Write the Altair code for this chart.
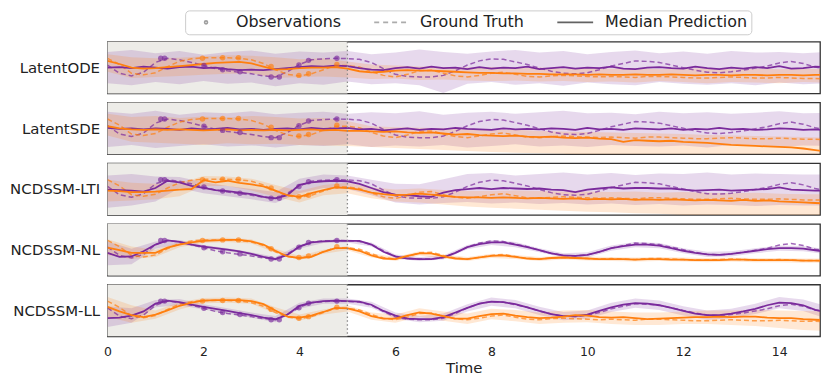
import altair as alt
import pandas as pd

# ---------------- data ----------------
MODELS = ["LatentODE", "LatentSDE", "NCDSSM-LTI", "NCDSSM-NL", "NCDSSM-LL"]
X_DOMAIN = [0, 14.85]
Y_DOMAIN = [0, 10]
X_TICKS = [0, 2, 4, 6, 8, 10, 12, 14]
CONTEXT_START = [0.0]
CONTEXT_END = [5.0]
LEGEND_LABELS = ["Observations", "Ground Truth", "Median Prediction"]

# sampling times of the curves (step 0.25) and of the bands (step 0.5)
T_LINE = [i * 0.25 for i in range(61)]
T_BAND = [i * 0.5 for i in range(31)]

GT_PURPLE = [5.5, 3.9, 3.4, 4.1, 6.0, 6.8, 6.5, 6.0, 5.4, 4.8, 4.4, 4.1, 3.8, 3.4, 3.2, 4.2, 5.6, 6.5, 6.7, 6.8, 6.75,
             6.6, 6.0, 4.8, 3.7, 3.3, 3.2, 3.2, 3.5, 4.4, 5.5, 6.3, 6.7, 6.6, 6.1, 5.6, 4.9, 4.3, 3.9, 3.8, 4.0,
             4.6, 5.3, 5.8, 6.3, 6.2, 6.0, 5.5, 5.0, 4.5, 4.1, 4.0, 4.2, 4.5, 4.9, 5.3, 5.9, 6.2, 5.8, 5.1, 4.7]
GT_ORANGE = [6.8, 5.6, 3.9, 3.6, 4.0, 5.2, 6.2, 6.7, 6.9, 6.9, 6.9, 6.8, 6.5, 5.8, 4.6, 3.7, 3.4, 3.8, 4.6, 5.4, 5.4,
             5.1, 4.2, 3.5, 3.2, 3.7, 4.4, 4.5, 3.9, 3.4, 3.2, 3.5, 3.9, 4.1, 3.7, 3.3, 3.2, 3.4, 3.5, 3.4, 3.3,
             3.2, 3.3, 3.2, 3.1, 3.3, 3.3, 3.2, 3.1, 3.0, 3.0, 3.1, 3.2, 3.1, 3.0, 3.0, 3.1, 3.0, 2.9, 2.9, 2.8]

OBS_PURPLE_T = [1.11, 1.19, 2.01, 2.40, 2.76, 3.41, 3.58, 3.99, 4.19, 4.78]
OBS_PURPLE_V = [6.8, 6.8, 5.4, 4.6, 4.2, 3.2, 3.2, 5.5, 6.4, 6.8]
OBS_ORANGE_T = [1.98, 2.40, 2.73, 3.41, 3.99, 4.19, 4.78]
OBS_ORANGE_V = [6.8, 6.9, 6.9, 5.2, 3.5, 3.8, 5.6]

# --- LatentODE ---
LATENTODE_MED_PURPLE = [5.0, 5.1, 4.9, 5.2, 5.0, 4.8, 5.1, 5.2, 4.9, 5.0, 4.7, 4.5, 4.6, 4.5, 4.7, 4.9, 5.1, 5.3, 5.2, 5.4, 5.3,
                        4.9, 4.6, 4.5, 4.9, 5.1, 4.8, 5.2, 4.9, 5.0, 4.7, 5.1, 4.8, 5.0, 4.9, 5.2, 4.7, 4.9, 5.1, 4.8, 5.0,
                        4.9, 5.2, 4.8, 4.7, 5.0, 5.1, 4.9, 4.8, 5.2, 4.9, 4.7, 5.0, 4.8, 5.1, 4.9, 5.3, 4.8, 4.9, 5.2, 5.1]
LATENTODE_MED_ORANGE = [6.3, 5.7, 5.0, 4.8, 4.9, 5.1, 5.3, 5.5, 5.7, 5.9, 6.0, 6.1, 5.8, 5.2, 4.6, 4.7, 4.9, 5.0, 5.0, 5.1, 4.8,
                        4.3, 4.1, 4.2, 4.4, 4.5, 4.4, 4.4, 4.3, 4.2, 4.1, 4.0, 4.0, 3.9, 3.9, 3.8, 3.8, 3.7, 3.7, 3.7, 3.6,
                        3.7, 3.6, 3.6, 3.7, 3.6, 3.6, 3.7, 3.6, 3.5, 3.6, 3.6, 3.5, 3.6, 3.6, 3.5, 3.6, 3.6, 3.5, 3.6, 3.6]
LATENTODE_PURPLE_HI = [8.0, 8.4, 7.8, 8.2, 7.5, 8.0, 8.3, 7.7, 8.1, 7.9, 8.2, 7.6, 7.9, 8.5, 8.0, 7.7,
                       8.1, 8.4, 7.9, 8.2, 7.6, 8.0, 8.3, 7.8, 8.1, 7.7, 8.2, 7.9, 8.0, 7.8, 8.0]
LATENTODE_PURPLE_LO = [2.0, 1.6, 2.2, 1.8, 2.4, 1.9, 2.1, 1.4, 2.0, 1.7, 2.3, 1.8, 2.0, 1.6, 0.1, 1.9,
                       2.2, 1.7, 2.0, 1.5, 2.1, 1.8, 1.6, 2.2, 1.9, 1.7, 2.0, 1.6, 2.1, 1.8, 2.0]
LATENTODE_ORANGE_HI = [7.6, 7.0, 6.8, 6.9, 7.2, 7.4, 7.3, 7.0, 6.6, 6.8, 6.2, 5.6, 5.4, 5.2, 5.1, 5.0,
                       5.1, 4.9, 5.0, 4.8, 4.9, 4.8, 4.9, 4.7, 4.8, 4.9, 4.7, 4.8, 4.7, 4.8, 4.7]
LATENTODE_ORANGE_LO = [4.2, 3.0, 3.2, 3.4, 3.6, 3.8, 3.9, 3.0, 3.2, 3.3, 3.1, 2.8, 2.9, 2.6, 2.7, 2.5,
                       2.4, 2.5, 2.3, 2.4, 2.2, 2.3, 2.1, 2.4, 2.2, 2.0, 2.2, 2.1, 2.0, 2.2, 2.1]

# --- LatentSDE ---
LATENTSDE_MED_PURPLE = [5.1, 4.9, 5.0, 4.8, 5.0, 4.9, 4.7, 5.0, 4.8, 4.9, 5.1, 4.8, 4.9, 4.7, 4.9, 5.0, 4.8, 5.1, 4.9, 5.0, 5.1,
                        4.8, 4.9, 4.6, 4.8, 5.0, 4.7, 4.9, 4.8, 5.1, 4.9, 4.8, 4.7, 5.0, 4.8, 4.9, 4.8, 5.0, 4.9, 4.7, 5.1,
                        4.8, 4.9, 4.7, 5.0, 4.9, 4.8, 5.0, 4.7, 4.9, 4.8, 5.1, 4.8, 4.9, 4.7, 4.8, 5.0, 4.9, 4.7, 4.8, 4.6]
LATENTSDE_MED_ORANGE = [5.4, 5.0, 4.8, 4.7, 4.8, 4.7, 4.8, 4.7, 4.6, 4.7, 4.8, 4.6, 4.7, 4.6, 4.7, 4.6, 4.7, 4.8, 4.6, 4.7, 4.5,
                        4.5, 4.4, 4.3, 4.4, 4.2, 4.1, 4.2, 4.0, 3.8, 3.9, 3.7, 3.6, 3.5, 3.6, 3.4, 3.3, 3.4, 3.2, 3.1, 3.2,
                        3.0, 2.9, 2.4, 2.7, 2.6, 2.5, 2.6, 2.4, 2.3, 2.2, 2.0, 1.8, 1.7, 1.6, 1.5, 1.4, 1.3, 1.1, 0.8, 0.5]
LATENTSDE_PURPLE_HI = [8.2, 7.8, 8.4, 7.6, 8.1, 7.9, 8.3, 7.7, 8.0, 8.2, 7.8, 8.1, 7.9, 8.3, 7.6, 8.0,
                       8.2, 7.8, 8.1, 8.4, 7.9, 8.0, 7.7, 8.2, 7.9, 8.1, 7.8, 8.0, 8.3, 7.9, 8.0]
LATENTSDE_PURPLE_LO = [1.4, 1.8, 1.2, 1.6, 1.9, 1.5, 1.7, 1.3, 1.8, 1.6, 1.9, 1.4, 1.7, 1.5, 1.8, 1.3,
                       1.6, 1.9, 1.5, 1.7, 1.4, 1.8, 1.6, 1.5, 1.7, 1.3, 1.8, 1.6, 1.4, 1.7, 1.6]
LATENTSDE_ORANGE_HI = [7.8, 7.2, 7.4, 7.0, 7.3, 7.1, 7.4, 7.2, 6.9, 7.0, 6.4, 5.4, 5.2, 5.1, 5.0, 4.9,
                       4.8, 4.7, 4.5, 4.4, 4.3, 4.2, 4.1, 4.0, 3.9, 3.7, 3.6, 3.5, 3.4, 3.3, 3.2]
LATENTSDE_ORANGE_LO = [3.6, 2.4, 2.2, 2.0, 1.8, 2.1, 1.9, 2.0, 1.8, 1.7, 1.6, 1.4, 1.2, 1.0, 0.8, 0.6,
                       0.4, 0.3, 0.2, 0.1, -0.2, -0.3, -0.4, -0.5, -0.5, -0.5, -0.5, -0.5, -0.5, -0.5, -0.5]

# --- NCDSSM-LTI ---
LTI_MED_PURPLE = [4.9, 4.8, 4.7, 4.5, 5.2, 6.6, 6.3, 5.6, 5.2, 4.8, 4.6, 4.3, 4.0, 3.5, 3.2, 3.8, 5.8, 6.3, 6.5, 6.6, 6.5,
                  6.0, 5.2, 4.4, 3.9, 3.8, 3.6, 3.5, 4.3, 4.8, 5.0, 5.2, 5.0, 5.2, 5.1, 5.0, 5.1, 4.9, 4.8, 4.4, 4.9,
                  5.1, 5.3, 5.1, 5.2, 5.2, 5.1, 5.1, 4.9, 4.7, 4.8, 4.9, 4.7, 4.8, 4.9, 5.0, 5.3, 4.9, 4.8, 4.7, 4.7]
LTI_MED_ORANGE = [4.7, 4.6, 4.4, 4.4, 4.5, 4.7, 4.9, 5.0, 6.7, 6.3, 6.6, 6.2, 5.9, 5.5, 4.7, 3.8, 3.5, 4.2, 4.8, 5.3, 5.2,
                  4.9, 4.3, 4.0, 3.8, 3.9, 4.1, 3.9, 3.7, 3.5, 3.4, 3.4, 3.3, 3.4, 3.3, 3.2, 3.3, 3.2, 3.1, 3.2, 3.0,
                  3.1, 3.0, 3.1, 2.9, 3.0, 2.9, 3.0, 2.9, 2.8, 2.9, 2.8, 2.7, 2.9, 2.7, 2.8, 2.6, 2.5, 2.4, 2.3, 2.2]
LTI_PURPLE_HI = [7.6, 7.9, 7.4, 7.3, 6.3, 5.6, 5.0, 4.4, 7.0, 7.8, 7.6, 6.8, 6.0, 5.9, 6.9, 7.9,
                 8.1, 7.6, 7.9, 8.2, 7.8, 8.1, 7.7, 8.0, 7.9, 8.2, 7.8, 8.0, 7.9, 7.8, 7.8]
LTI_PURPLE_LO = [1.4, 1.8, 2.6, 5.2, 4.2, 3.6, 3.0, 2.3, 4.2, 5.2, 5.0, 3.8, 2.4, 2.0, 2.3, 2.5,
                 2.2, 2.4, 2.1, 2.3, 2.0, 2.2, 1.9, 2.1, 1.8, 2.0, 1.9, 1.7, 1.9, 1.8, 1.8]
LTI_ORANGE_HI = [6.8, 6.2, 6.0, 6.1, 7.5, 7.4, 7.0, 5.8, 4.6, 5.8, 6.2, 5.3, 4.9, 5.1, 4.8, 4.6,
                 4.6, 4.7, 4.6, 4.5, 4.5, 4.4, 4.5, 4.3, 4.4, 4.3, 4.2, 4.3, 4.1, 4.0, 4.0]
LTI_ORANGE_LO = [2.6, 2.8, 3.0, 3.6, 5.6, 5.6, 4.7, 3.5, 2.4, 3.8, 4.2, 3.2, 2.6, 2.4, 2.0, 1.6,
                 1.4, 1.2, 1.0, 0.8, 0.6, 0.5, 0.3, 0.2, 0.0, 0.0, -0.2, -0.3, -0.4, -0.5, -0.5]

# --- NCDSSM-NL ---
NL_MED_PURPLE = [4.4, 3.6, 3.7, 4.7, 6.0, 6.8, 6.5, 6.0, 5.6, 5.3, 5.0, 4.7, 4.2, 3.6, 3.2, 4.0, 5.6, 6.4, 6.6, 6.7, 6.7,
                 6.7, 6.0, 4.6, 3.7, 3.3, 3.2, 3.2, 3.5, 4.4, 5.5, 6.1, 6.4, 6.4, 6.0, 5.5, 4.9, 4.3, 3.9, 3.8, 4.0,
                 4.6, 5.3, 5.7, 6.0, 6.0, 5.8, 5.3, 4.8, 4.4, 4.1, 4.0, 4.2, 4.5, 4.8, 5.1, 5.3, 5.3, 5.2, 4.9, 4.6]
NL_MED_ORANGE = [5.4, 4.9, 4.4, 4.4, 4.4, 5.4, 6.0, 6.4, 6.7, 6.8, 6.9, 6.9, 6.6, 6.0, 4.8, 3.7, 3.4, 3.6, 4.6, 5.3, 5.3,
                 4.8, 3.9, 3.3, 3.2, 3.8, 4.3, 4.3, 3.7, 3.3, 3.2, 3.5, 3.8, 3.9, 3.6, 3.3, 3.2, 3.4, 3.5, 3.4, 3.3,
                 3.2, 3.2, 3.2, 3.1, 3.2, 3.2, 3.1, 3.1, 3.0, 3.0, 3.0, 3.1, 3.1, 3.0, 3.0, 3.0, 3.0, 2.9, 2.9, 2.9]
NL_PURPLE_HI = [6.6, 5.2, 6.6, 6.9, 5.9, 5.3, 4.5, 3.6, 6.0, 6.9, 7.0, 6.4, 4.1, 3.6, 3.9, 5.9,
                6.9, 6.5, 5.3, 4.3, 4.5, 5.8, 6.5, 6.3, 5.3, 4.6, 4.7, 5.3, 5.8, 5.7, 5.1]
NL_PURPLE_LO = [2.0, 2.2, 5.2, 6.1, 5.3, 4.7, 3.9, 2.8, 5.2, 6.3, 6.4, 5.6, 3.3, 2.8, 3.1, 5.1,
                5.9, 5.5, 4.5, 3.5, 3.5, 4.8, 5.5, 5.3, 4.3, 3.6, 3.7, 4.3, 4.8, 4.7, 4.1]
NL_ORANGE_HI = [7.0, 5.6, 5.0, 6.5, 7.1, 7.3, 7.0, 5.2, 3.8, 5.0, 5.7, 4.3, 3.6, 4.7, 4.1, 3.6,
                4.2, 4.0, 3.6, 3.9, 3.7, 3.6, 3.5, 3.6, 3.5, 3.4, 3.5, 3.4, 3.4, 3.3, 3.3]
NL_ORANGE_LO = [4.0, 3.2, 3.6, 5.5, 6.3, 6.5, 6.2, 4.4, 3.0, 4.2, 4.9, 3.5, 2.8, 3.9, 3.3, 2.8,
                3.4, 3.2, 2.8, 3.1, 2.9, 2.8, 2.7, 2.8, 2.7, 2.6, 2.7, 2.6, 2.6, 2.5, 2.5]

# --- NCDSSM-LL ---
LL_MED_PURPLE = [3.5, 3.6, 4.0, 4.8, 6.3, 6.9, 6.6, 6.1, 5.7, 5.3, 4.9, 4.5, 4.1, 3.6, 3.3, 4.2, 5.9, 6.5, 6.8, 6.9, 6.8,
                 6.7, 6.1, 4.9, 4.0, 3.4, 3.3, 3.3, 3.7, 4.6, 5.5, 6.3, 6.7, 6.6, 6.2, 5.6, 4.9, 4.3, 3.9, 3.9, 4.2,
                 4.9, 5.6, 6.1, 6.4, 6.3, 6.0, 5.5, 4.9, 4.4, 4.1, 4.1, 4.4, 4.8, 5.3, 6.0, 6.5, 6.4, 6.0, 5.1, 4.6]
LL_MED_ORANGE = [5.7, 4.8, 4.1, 3.7, 4.2, 5.0, 5.9, 6.5, 6.9, 7.0, 7.0, 7.0, 6.8, 6.2, 5.0, 3.8, 3.6, 4.0, 4.7, 5.5, 5.4,
                 4.8, 3.9, 3.4, 3.4, 4.1, 4.6, 4.4, 3.9, 3.4, 3.4, 3.9, 4.3, 4.4, 4.0, 3.7, 3.5, 3.6, 3.8, 4.1, 4.0,
                 3.7, 3.6, 3.7, 3.5, 3.3, 3.4, 3.5, 3.6, 3.7, 3.7, 3.8, 3.7, 3.8, 3.8, 3.6, 3.5, 3.5, 3.3, 3.2, 3.1]
LL_PURPLE_HI = [5.8, 5.4, 7.0, 7.2, 6.2, 5.4, 4.6, 3.9, 6.5, 7.3, 7.3, 6.7, 4.6, 3.9, 4.4, 6.2,
                7.5, 7.0, 5.7, 4.7, 5.0, 6.5, 7.3, 6.9, 5.8, 5.0, 5.3, 6.3, 7.6, 7.1, 5.8]
LL_PURPLE_LO = [1.8, 2.6, 5.6, 6.0, 5.2, 4.4, 3.6, 2.7, 5.3, 6.3, 6.3, 5.5, 3.4, 2.7, 3.0, 4.8,
                5.9, 5.4, 4.1, 3.1, 3.4, 4.7, 5.5, 5.1, 4.0, 3.2, 3.5, 4.3, 5.4, 4.9, 3.4]
LL_ORANGE_HI = [7.6, 6.0, 5.0, 6.6, 7.4, 7.5, 7.3, 5.6, 4.2, 5.2, 6.0, 4.6, 4.2, 5.4, 4.8, 4.4,
                5.3, 5.1, 4.6, 5.0, 5.1, 4.8, 4.6, 4.6, 4.8, 5.0, 5.0, 5.1, 5.0, 4.9, 4.8]
LL_ORANGE_LO = [3.8, 2.6, 3.4, 5.2, 6.4, 6.5, 6.3, 4.4, 3.0, 4.2, 4.8, 3.2, 2.6, 3.8, 3.0, 2.4,
                3.3, 2.9, 2.4, 2.6, 2.7, 2.4, 2.2, 2.2, 2.4, 2.4, 2.2, 2.0, 1.6, 1.2, 1.0]

# ---------------- styling ----------------
PURPLE = "#7a2a9c"
ORANGE = "#ff7f0e"
CONTEXT_FILL = "#edece8"
FONT = "DejaVu Sans"
# legend glyphs (custom symbol paths): small dot, dashed line, solid line
LEGEND_SHAPES = [
    "M-0.3,0A0.3,0.3 0 1,0 0.3,0A0.3,0.3 0 1,0 -0.3,0Z",
    "M-3.2,0L-2.2,0M-1.4,0L-0.4,0M0.4,0L1.4,0M2.2,0L3.2,0",
    "M-3.6,0L3.6,0",
]
LEGEND_COLORS = ["#777777", "#8a8a8a", "#222222"]

PANELS = [
    ("LatentODE", LATENTODE_MED_PURPLE, LATENTODE_MED_ORANGE, LATENTODE_PURPLE_LO, LATENTODE_PURPLE_HI,
     LATENTODE_ORANGE_LO, LATENTODE_ORANGE_HI),
    ("LatentSDE", LATENTSDE_MED_PURPLE, LATENTSDE_MED_ORANGE, LATENTSDE_PURPLE_LO, LATENTSDE_PURPLE_HI,
     LATENTSDE_ORANGE_LO, LATENTSDE_ORANGE_HI),
    ("NCDSSM-LTI", LTI_MED_PURPLE, LTI_MED_ORANGE, LTI_PURPLE_LO, LTI_PURPLE_HI, LTI_ORANGE_LO, LTI_ORANGE_HI),
    ("NCDSSM-NL", NL_MED_PURPLE, NL_MED_ORANGE, NL_PURPLE_LO, NL_PURPLE_HI, NL_ORANGE_LO, NL_ORANGE_HI),
    ("NCDSSM-LL", LL_MED_PURPLE, LL_MED_ORANGE, LL_PURPLE_LO, LL_PURPLE_HI, LL_ORANGE_LO, LL_ORANGE_HI),
]

W, H = 716, 52


def build_panel(name, med_p, med_o, p_lo, p_hi, o_lo, o_hi, last, with_legend):
    xs = alt.Scale(domain=X_DOMAIN, nice=False, zero=False)
    ys = alt.Scale(domain=Y_DOMAIN, nice=False, zero=False)
    if last:
        x_axis = alt.Axis(values=X_TICKS, title="Time", grid=False, domain=False, ticks=False, tickSize=0,
                          labelPadding=9, labelFontSize=12.5, labelFont=FONT, labelColor="#222222",
                          titleFont=FONT, titleFontSize=15, titleFontWeight="normal", titleColor="#222222",
                          titlePadding=3, labelFlush=False)
    else:
        x_axis = None
    y_axis = alt.Axis(title=name, labels=False, ticks=False, domain=False, grid=False, titleAngle=0,
                      titleAlign="right", titleBaseline="middle", titleX=-8, titleY=H / 2,
                      titleFont=FONT, titleFontSize=15, titleFontWeight="normal", titleColor="#222222")

    def X(f):
        return alt.X(f, scale=xs, axis=x_axis)

    def Y(f):
        return alt.Y(f, scale=ys, axis=y_axis)

    ctx_df = pd.DataFrame({"start": CONTEXT_START, "end": CONTEXT_END})
    ctx = alt.Chart(ctx_df).mark_rect(color=CONTEXT_FILL).encode(x=X("start:Q"), x2="end:Q")
    vline = alt.Chart(ctx_df).mark_rule(color="#8a8a8a", strokeDash=[1.5, 2.5], strokeWidth=1.3).encode(
        x=X("end:Q"))

    layers = [ctx]
    for lo, hi, col in ((p_lo, p_hi, PURPLE), (o_lo, o_hi, ORANGE)):
        bdf = pd.DataFrame({"t": T_BAND, "lo": lo, "hi": hi})
        layers.append(alt.Chart(bdf).mark_area(color=col, opacity=0.18, clip=True).encode(
            x=X("t:Q"), y=Y("lo:Q"), y2="hi:Q"))
    for gt, col in ((GT_PURPLE, PURPLE), (GT_ORANGE, ORANGE)):
        gdf = pd.DataFrame({"t": T_LINE, "v": gt})
        layers.append(alt.Chart(gdf).mark_line(color=col, strokeWidth=1.5, strokeDash=[5, 3], opacity=0.7,
                                               clip=True).encode(x=X("t:Q"), y=Y("v:Q")))
    for med, col in ((med_p, PURPLE), (med_o, ORANGE)):
        mdf = pd.DataFrame({"t": T_LINE, "v": med})
        layers.append(alt.Chart(mdf).mark_line(color=col, strokeWidth=1.8, clip=True).encode(
            x=X("t:Q"), y=Y("v:Q")))
    for ot, ov, col in ((OBS_PURPLE_T, OBS_PURPLE_V, PURPLE), (OBS_ORANGE_T, OBS_ORANGE_V, ORANGE)):
        odf = pd.DataFrame({"t": ot, "v": ov})
        layers.append(alt.Chart(odf).mark_circle(color=col, size=30, opacity=0.65, clip=True).encode(
            x=X("t:Q"), y=Y("v:Q")))
    layers.append(vline)

    if with_legend:
        leg = alt.Legend(title=None, orient="none", legendX=78, legendY=-31.5, direction="horizontal",
                         strokeColor="#cccccc", fillColor="white", cornerRadius=4, padding=4,
                         labelFont=FONT, labelFontSize=16, labelColor="#222222",
                         symbolSize=100, symbolOffset=9, labelOffset=22,
                         columnPadding=29, symbolStrokeWidth=1.6)
        ldf = pd.DataFrame({"entry": LEGEND_LABELS})
        legend_layer = alt.Chart(ldf).mark_point(filled=False, strokeWidth=1.6, size=100).encode(
            shape=alt.Shape("entry:N", scale=alt.Scale(domain=LEGEND_LABELS, range=LEGEND_SHAPES), legend=leg),
            color=alt.Color("entry:N", scale=alt.Scale(domain=LEGEND_LABELS, range=LEGEND_COLORS), legend=leg),
        ).transform_filter("datum.entry == 'none'")
        layers.append(legend_layer)

    return alt.layer(*layers).properties(width=W, height=H)


panels = []
for i, p in enumerate(PANELS):
    panels.append(build_panel(*p, last=(i == len(PANELS) - 1), with_legend=(i == 0)))

chart = alt.vconcat(*panels, spacing=9, bounds="flush").properties(
    padding={"left": 0, "top": 1, "right": 2, "bottom": 0}
).configure(font=FONT, background="white").configure_view(stroke="#333333", strokeWidth=1.3)

chart.save("out.html", embed_options={"renderer": "svg", "actions": False})
